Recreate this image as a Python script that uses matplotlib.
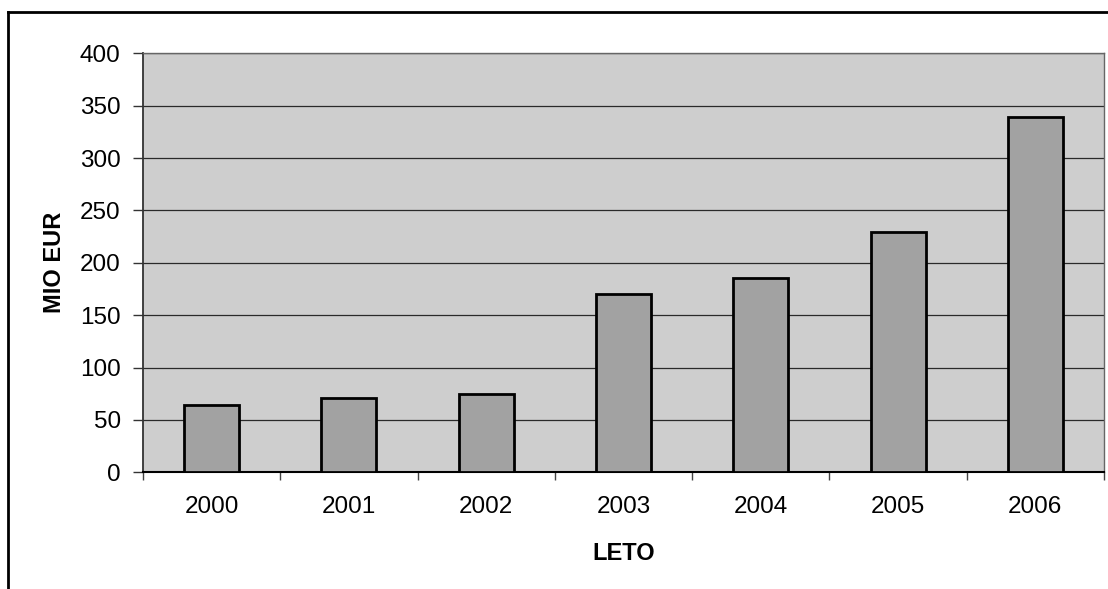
import numpy as np
import matplotlib
matplotlib.use("Agg")
import matplotlib.pyplot as plt
from matplotlib.lines import Line2D

# annual values, million EUR
years = ["2000", "2001", "2002", "2003", "2004", "2005", "2006"]
values = [64, 71, 75, 170, 186, 229, 339]
y_ticks = [0, 50, 100, 150, 200, 250, 300, 350, 400]

plt.rcParams["font.family"] = ["Liberation Sans", "DejaVu Sans"]

fig = plt.figure(figsize=(11.08, 5.89), dpi=100)
ax = fig.add_axes([0.129, 0.198, 0.8674, 0.7115])

x = np.arange(len(years))
ax.set_facecolor("#cecece")
ax.bar(x, values, width=0.4, color="#a2a2a2", edgecolor="black",
       linewidth=2, zorder=3)

ax.set_xlim(-0.5, len(years) - 0.5)
ax.set_ylim(0, 400)
ax.set_yticks(y_ticks)
ax.yaxis.grid(True, color="#2a2a2a", linewidth=0.9, zorder=1)
ax.set_axisbelow(True)

# labels under bar centres, tick marks on category boundaries
ax.set_xticks(x)
ax.set_xticklabels(years)
ax.set_xticks(np.arange(len(years) + 1) - 0.5, minor=True)
ax.tick_params(axis="x", which="major", length=0, pad=17, labelsize=17.5)
ax.tick_params(axis="x", which="minor", length=6, width=1, color="#444444")
ax.tick_params(axis="y", length=7, width=1, color="#333333", pad=9,
               labelsize=17.5)

for side in ["top", "right"]:
    ax.spines[side].set_color("#666666")
    ax.spines[side].set_linewidth(1)
ax.spines["left"].set_color("#333333")
ax.spines["left"].set_linewidth(1.3)
ax.spines["bottom"].set_color("black")
ax.spines["bottom"].set_linewidth(1.5)

ax.set_xlabel("LETO", fontsize=17, fontweight="bold", labelpad=17)
ax.set_ylabel("MIO EUR", fontsize=17, fontweight="bold", labelpad=10)

# chart frame, only its top and left edges fall inside the image
fig.add_artist(Line2D([8 / 1108, 8 / 1108], [0, 1 - 12 / 589],
                      transform=fig.transFigure, color="black", linewidth=2))
fig.add_artist(Line2D([8 / 1108, 1], [1 - 12 / 589, 1 - 12 / 589],
                      transform=fig.transFigure, color="black", linewidth=2))

fig.savefig("out.png", dpi=100, facecolor="white")
